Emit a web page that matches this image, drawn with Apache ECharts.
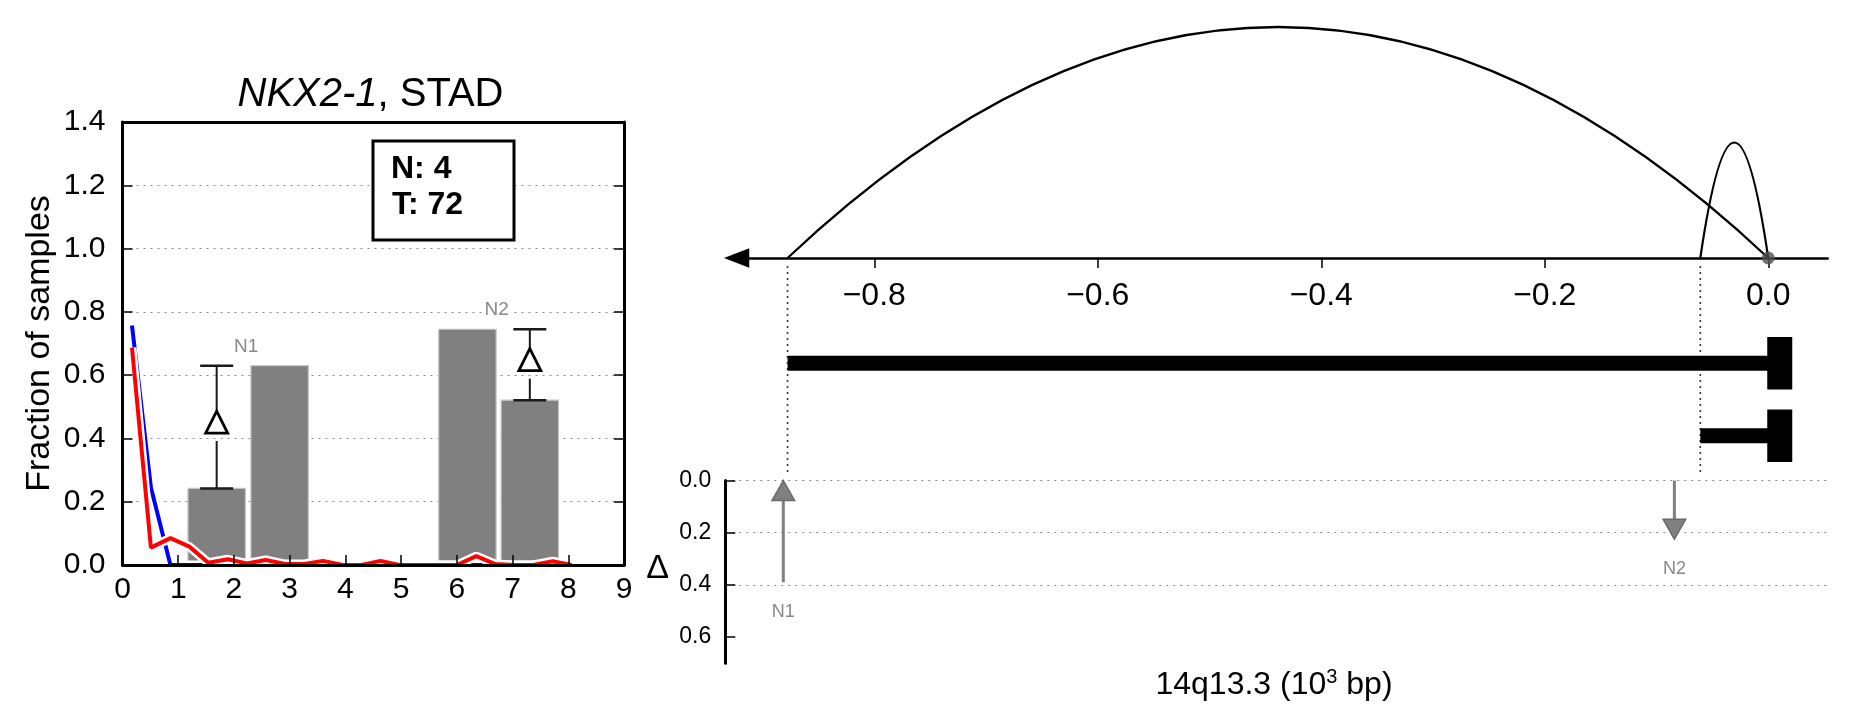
<!DOCTYPE html>
<html><head><meta charset="utf-8">
<script src="https://cdn.jsdelivr.net/npm/echarts@6/dist/echarts.min.js"></script>
<style>html,body{margin:0;padding:0;background:#fff}#c{width:1851px;height:718px}</style>
</head><body><div id="c"></div>
<script>
// ---------------- data ----------------
// left panel
const yTicksLeft = [0.0, 0.2, 0.4, 0.6, 0.8, 1.0, 1.2, 1.4];
const barX = [1.69, 2.82, 6.19, 7.31];
const barY = [0.242, 0.630, 0.745, 0.521];
const pairNames = ['N1', 'N2'];
const pairErrBar = [0, 3];   // bar carrying the Δ error bar
const pairOther = [1, 2];    // other bar of the pair
const lineX = [0.17, 0.51, 0.86, 1.20, 1.54, 1.89, 2.23, 2.57, 2.92, 3.26, 3.60, 3.95,
               4.29, 4.63, 4.97, 5.32, 5.66, 6.00, 6.35, 6.69, 7.03, 7.37, 7.72, 8.06];
const blueY = [0.757, 0.245, 0.0, 0.0, 0.0, 0.0, 0.0, 0.0, 0.0, 0.0, 0.0, 0.0,
               0.0, 0.0, 0.0, 0.0, 0.0, 0.0, 0.0, 0.0, 0.0, 0.0, 0.0, 0.0];
const redY = [0.687, 0.055, 0.085, 0.058, 0.007, 0.018, 0.005, 0.016, 0.003, 0.003, 0.013, 0.0,
              0.0, 0.013, 0.0, 0.0, 0.0, 0.0, 0.028, 0.003, 0.0, 0.0, 0.012, 0.0];
const nCount = 4;
const tCount = 72;
// right panel
const genomicTicks = [-0.8, -0.6, -0.4, -0.2, 0.0];
const arcStart = [-0.8776, -0.0608];
const arcEnd = [0.0, 0.0];
const arcHeight = [1.0, 0.50];
const anchorPos = [0.0];
const breakpoints = [-0.8776, -0.0608];
const geneRows = ['tx1', 'tx2'];
const geneStart = [-0.8776, -0.0608];
const geneEnd = [0.0, 0.0];
const deltaTicks = [0.0, 0.2, 0.4, 0.6];
const arrowNames = ['N1', 'N2'];
const arrowX = [-0.8814, -0.0840];
const arrowFrom = [0.39, 0.0];
const arrowTo = [0.0, 0.225];

// ---------------- styling / layout ----------------
const FONT = '"Liberation Sans", Arial, Helvetica, sans-serif';
const BAR_W = 1.03;

function renderBar(params, api) {
  const x = api.value(0), h = api.value(1);
  const p0 = api.coord([x - BAR_W / 2, h]);
  const p1 = api.coord([x + BAR_W / 2, 0]);
  return {type: 'rect', shape: {x: p0[0], y: p0[1], width: p1[0] - p0[0], height: p1[1] - p0[1]},
          style: {fill: '#808080', stroke: '#c4c4c4', lineWidth: 1.2}};
}

function renderErr(params, api) {
  const x = api.value(0), lo = api.value(1), hi = api.value(2), lx = api.value(3), top = api.value(4);
  const pLo = api.coord([x, lo]), pHi = api.coord([x, hi]);
  const cx = pLo[0];
  const cap = 16.5, t = 11;
  const cy = (pLo[1] + pHi[1]) / 2 - 5;
  const ls = {stroke: '#1a1a1a', lineWidth: 2};
  const pl = api.coord([lx, top]);
  return {type: 'group', children: [
    {type: 'line', shape: {x1: cx - cap, y1: pHi[1], x2: cx + cap, y2: pHi[1]}, style: {stroke: '#1a1a1a', lineWidth: 2.5}},
    {type: 'line', shape: {x1: cx - cap, y1: pLo[1], x2: cx + cap, y2: pLo[1]}, style: {stroke: '#1a1a1a', lineWidth: 2.5}},
    {type: 'line', shape: {x1: cx, y1: pHi[1], x2: cx, y2: cy - t}, style: ls},
    {type: 'line', shape: {x1: cx, y1: cy + t + 8, x2: cx, y2: pLo[1]}, style: ls},
    {type: 'polygon', shape: {points: [[cx, cy - t], [cx + t, cy + t], [cx - t, cy + t]]},
     style: {fill: '#fff', stroke: '#000', lineWidth: 2.8}},
    {type: 'text', x: pl[0] - 2, y: pl[1] - 19,
     style: {text: pairNames[params.dataIndex], fill: '#888', fontSize: 19, fontFamily: FONT,
             align: 'center', verticalAlign: 'middle', backgroundColor: '#fff', padding: [0, 1]}}
  ]};
}

function renderArc(params, api) {
  const s = api.value(0), e = api.value(1), h = api.value(2);
  const p0 = api.coord([s, 0]), p1 = api.coord([e, 0]), pc = api.coord([(s + e) / 2, 2 * h]);
  return {type: 'bezierCurve', shape: {x1: p0[0], y1: p0[1], x2: p1[0], y2: p1[1], cpx1: pc[0], cpy1: pc[1]},
          style: {stroke: '#000', fill: 'none', lineWidth: 2.2}};
}

function renderBreak(params, api) {
  const p = api.coord([api.value(0), 0]);
  return {type: 'line', shape: {x1: p[0], y1: p[1] + 8, x2: p[0], y2: p[1] + 214},
          style: {stroke: '#333', lineWidth: 1.6, lineDash: [2, 4]}};
}

function renderGene(params, api) {
  const s = api.value(0), e = api.value(1), r = api.value(2);
  const ps = api.coord([s, r]), pe = api.coord([e, r]);
  return {type: 'group', children: [
    {type: 'rect', shape: {x: ps[0], y: ps[1] - 7.4, width: pe[0] - ps[0], height: 14.8}, style: {fill: '#000'}},
    {type: 'rect', shape: {x: pe[0] - 1, y: pe[1] - 26.3, width: 25, height: 52.6}, style: {fill: '#000'}}
  ]};
}

function renderArrow(params, api) {
  const x = api.value(0), a = api.value(1), b = api.value(2);
  const p0 = api.coord([x, a]), p1 = api.coord([x, b]);
  const dir = p1[1] > p0[1] ? 1 : -1;
  const hl = 20, hw = 11.3;
  const baseY = p1[1] - dir * hl;
  const low = Math.max(p0[1], p1[1]);
  return {type: 'group', children: [
    {type: 'line', shape: {x1: p0[0], y1: p0[1], x2: p0[0], y2: baseY}, style: {stroke: '#808080', lineWidth: 3}},
    {type: 'polygon', shape: {points: [[p1[0], p1[1]], [p1[0] - hw, baseY], [p1[0] + hw, baseY]]},
     style: {fill: '#808080', stroke: '#6a6a6a', lineWidth: 1.5}},
    {type: 'text', x: p0[0], y: low + 30,
     style: {text: arrowNames[params.dataIndex], fill: '#888', fontSize: 18, fontFamily: FONT, align: 'center', verticalAlign: 'middle'}}
  ]};
}

const axBlack = {color: '#000', width: 3};
const tickBlack = {color: '#000', width: 1.5};
const fmt1 = v => v.toFixed(1);
const fmtGen = v => (v < 0 ? '\u2212' : '') + Math.abs(v).toFixed(1);

const errData = pairNames.map((n, i) => {
  const a = pairErrBar[i], b = pairOther[i];
  return [barX[a], barY[a], barY[b], (barX[a] + barX[b]) / 2, Math.max(barY[a], barY[b])];
});

const option = {
  backgroundColor: '#fff',
  animation: false,
  textStyle: {fontFamily: FONT},
  grid: [
    {left: 122.5, top: 122, width: 501.5, height: 443},
    {left: 736.6, top: 27, width: 1091.1, height: 231},
    {left: 736.6, top: 327, width: 1091.1, height: 145},
    {left: 725.3, top: 480.5, width: 1102.4, height: 182.7}
  ],
  xAxis: [
    {gridIndex: 0, type: 'value', position: 'bottom', min: 0, max: 9, interval: 1, z: 10,
     axisLine: {onZero: false, lineStyle: axBlack}, axisTick: {inside: true, length: 10, lineStyle: tickBlack},
     axisLabel: {fontSize: 30, color: '#000', margin: 10, fontFamily: FONT}, splitLine: {show: false}},
    {gridIndex: 0, type: 'value', position: 'top', min: 0, max: 9, interval: 1, z: 10,
     axisLine: {onZero: false, lineStyle: axBlack}, axisTick: {show: false}, axisLabel: {show: false}, splitLine: {show: false}},
    {gridIndex: 1, type: 'value', position: 'bottom', min: -0.9232, max: 0.0532,
     axisLine: {onZero: false, symbol: ['triangle', 'none'], symbolSize: [19.5, 25.3], lineStyle: {color: '#000', width: 2.5}},
     axisTick: {customValues: genomicTicks, length: 10, lineStyle: tickBlack},
     axisLabel: {customValues: genomicTicks, formatter: fmtGen, fontSize: 32, color: '#000', margin: 22, fontFamily: FONT},
     splitLine: {show: false}},
    {gridIndex: 2, type: 'value', min: -0.9232, max: 0.0532, show: false},
    {gridIndex: 3, type: 'value', min: -0.9333, max: 0.0532, show: false}
  ],
  yAxis: [
    {gridIndex: 0, type: 'value', position: 'left', min: 0, max: 1.4, interval: 0.2, z: 10,
     name: 'Fraction of samples', nameLocation: 'middle', nameGap: 66,
     nameTextStyle: {fontSize: 34, color: '#000', fontFamily: FONT},
     axisLine: {show: true, onZero: false, lineStyle: axBlack}, axisTick: {show: true, inside: true, length: 10, lineStyle: tickBlack},
     axisLabel: {customValues: yTicksLeft, fontSize: 30, color: '#000', margin: 17, formatter: fmt1, fontFamily: FONT},
     splitLine: {show: false}},
    {gridIndex: 0, type: 'value', position: 'right', min: 0, max: 1.4, interval: 0.2, z: 10,
     axisLine: {show: true, onZero: false, lineStyle: axBlack}, axisTick: {show: true, inside: true, length: 10, lineStyle: tickBlack},
     axisLabel: {show: false}, splitLine: {show: false}},
    {gridIndex: 0, type: 'value', min: 0, max: 1.4, interval: 0.2, z: 0,
     axisLine: {show: false, onZero: false}, axisTick: {show: false}, axisLabel: {show: false},
     splitLine: {show: true, showMinLine: false, showMaxLine: false, lineStyle: {color: '#888', type: [2, 5], width: 1}}},
    {gridIndex: 1, type: 'value', min: 0, max: 1, show: false},
    {gridIndex: 2, type: 'category', data: geneRows, inverse: true, show: false},
    {gridIndex: 3, type: 'value', position: 'left', inverse: true, min: 0, max: 0.7, interval: 0.2,
     axisLine: {show: true, onZero: false, lineStyle: axBlack},
     axisTick: {show: true, inside: true, length: 10, customValues: deltaTicks, lineStyle: tickBlack},
     axisLabel: {customValues: deltaTicks, fontSize: 23, color: '#000', margin: 14, formatter: fmt1, fontFamily: FONT},
     splitLine: {show: true, showMaxLine: false, lineStyle: {color: '#888', type: [2, 5], width: 1}}}
  ],
  graphic: [
    {type: 'text', x: 370.5, y: 95, z: 100,
     style: {text: '{i|NKX2-1}, STAD', fontSize: 40, fontFamily: FONT, fill: '#000', align: 'center', verticalAlign: 'middle',
             rich: {i: {fontStyle: 'italic', fontSize: 40, fontFamily: FONT, fill: '#000'}}}},
    {type: 'rect', z: 100, shape: {x: 373, y: 141, width: 141, height: 99},
     style: {fill: '#fff', stroke: '#000', lineWidth: 3}},
    {type: 'text', z: 101, x: 391, y: 169.3,
     style: {text: 'N: ' + nCount, fontSize: 32, fontWeight: 'bold', fontFamily: FONT, fill: '#000', align: 'left', verticalAlign: 'middle'}},
    {type: 'text', z: 101, x: 392, y: 205.3,
     style: {text: 'T: ' + tCount, fontSize: 32, fontWeight: 'bold', fontFamily: FONT, fill: '#000', align: 'left', verticalAlign: 'middle'}},
    {type: 'text', z: 100, x: 657.7, y: 568.3,
     style: {text: '\u0394', fontSize: 34, fontFamily: FONT, fill: '#000', align: 'center', verticalAlign: 'middle'}},
    {type: 'text', z: 100, x: 1274, y: 683.3,
     style: {text: '{m|14q13.3 (10}{s|3}{m| bp)}', fontFamily: FONT, fill: '#000', align: 'center', verticalAlign: 'middle',
             rich: {m: {fontSize: 32, fontFamily: FONT, fill: '#000', lineHeight: 36, verticalAlign: 'bottom'},
                    s: {fontSize: 20, fontFamily: FONT, fill: '#000', lineHeight: 36, verticalAlign: 'top', padding: [2, 0, 0, 0]}}}}
  ],
  series: [
    {type: 'custom', name: 'bars', xAxisIndex: 0, yAxisIndex: 0, z: 2, renderItem: renderBar,
     data: barX.map((x, i) => [x, barY[i]])},
    {type: 'line', name: 'blueHalo', xAxisIndex: 0, yAxisIndex: 0, z: 3, showSymbol: false, silent: true,
     lineStyle: {color: '#fff', width: 9}, data: lineX.map((x, i) => [x, blueY[i]])},
    {type: 'line', name: 'blue', xAxisIndex: 0, yAxisIndex: 0, z: 4, showSymbol: false,
     lineStyle: {color: '#0000ff', width: 4}, data: lineX.map((x, i) => [x, blueY[i]])},
    {type: 'line', name: 'redHalo', xAxisIndex: 0, yAxisIndex: 0, z: 5, showSymbol: false, silent: true,
     lineStyle: {color: '#fff', width: 9}, data: lineX.map((x, i) => [x, redY[i]])},
    {type: 'line', name: 'red', xAxisIndex: 0, yAxisIndex: 0, z: 6, showSymbol: false,
     lineStyle: {color: '#ff0000', width: 4}, data: lineX.map((x, i) => [x, redY[i]])},
    {type: 'custom', name: 'delta', xAxisIndex: 0, yAxisIndex: 0, z: 7, renderItem: renderErr, data: errData},
    {type: 'custom', name: 'arcs', xAxisIndex: 2, yAxisIndex: 3, z: 2, renderItem: renderArc,
     data: arcStart.map((s, i) => [s, arcEnd[i], arcHeight[i]])},
    {type: 'custom', name: 'breaks', xAxisIndex: 2, yAxisIndex: 3, z: 1, renderItem: renderBreak,
     data: breakpoints.map(b => [b])},
    {type: 'scatter', name: 'anchor', xAxisIndex: 2, yAxisIndex: 3, z: 8, symbolSize: 13,
     itemStyle: {color: '#505050'}, data: anchorPos.map(a => [a, 0])},
    {type: 'custom', name: 'genes', xAxisIndex: 3, yAxisIndex: 4, z: 2, renderItem: renderGene,
     encode: {x: [0, 1], y: 2},
     data: geneStart.map((s, i) => [s, geneEnd[i], i])},
    {type: 'custom', name: 'arrows', xAxisIndex: 4, yAxisIndex: 5, z: 3, renderItem: renderArrow,
     encode: {x: 0, y: [1, 2]},
     data: arrowX.map((x, i) => [x, arrowFrom[i], arrowTo[i]])}
  ]
};

const chart = echarts.init(document.getElementById('c'), null, {renderer: 'canvas', width: 1851, height: 718});
chart.setOption(option);
</script>
</body></html>
